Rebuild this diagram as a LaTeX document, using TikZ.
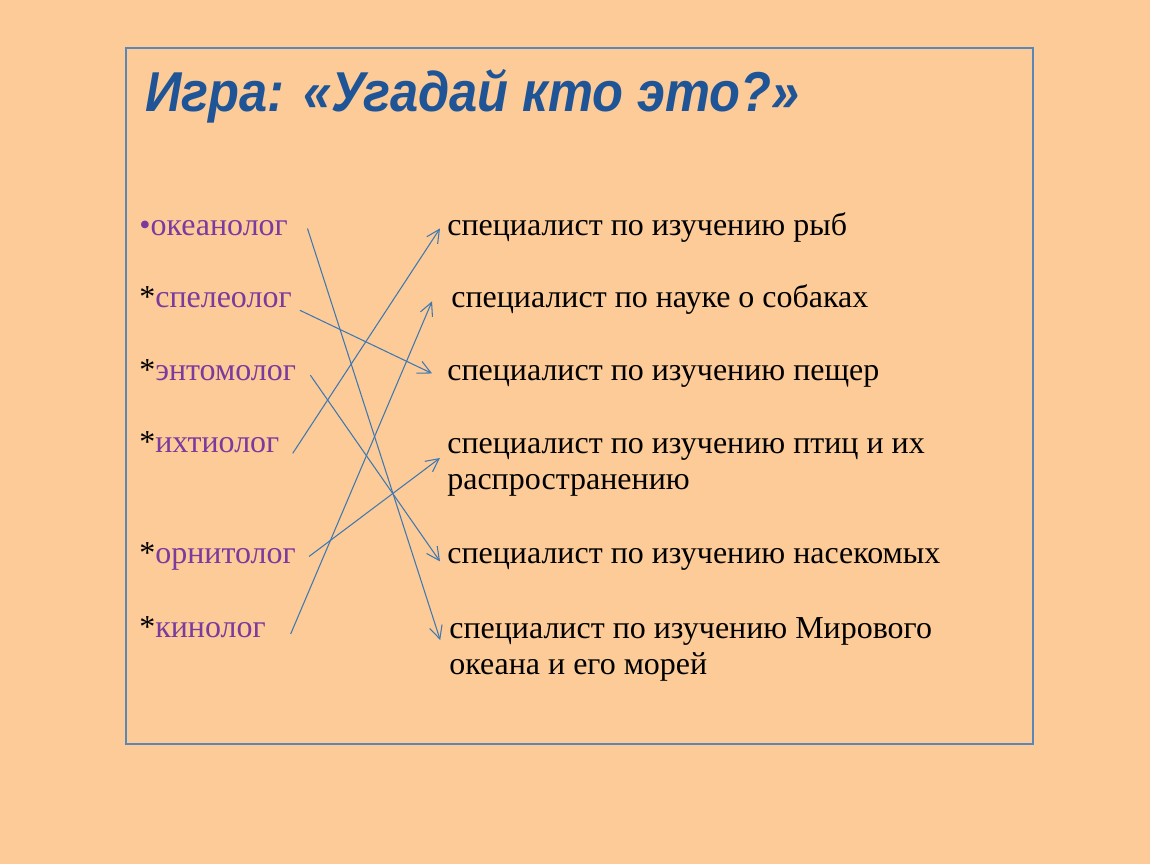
\documentclass[tikz,border=0pt]{standalone}
\usepackage{fontspec}
\setmainfont{Liberation Serif}
\newfontfamily\titlefont[FakeStretch=0.9]{Liberation Sans}
\usetikzlibrary{arrows.meta}
\definecolor{peach}{HTML}{FCCB98}
\definecolor{frameblue}{HTML}{5B86B8}
\definecolor{titleblue}{HTML}{1F5596}
\definecolor{wordpurple}{HTML}{7A3A9E}
\definecolor{arrowblue}{HTML}{3F78B0}
\begin{document}
\begin{tikzpicture}[x=0.02cm, y=-0.02cm,
    word/.style={anchor=base west, inner sep=0pt, font=\fontsize{18.2}{21}\selectfont},
    meaning/.style={anchor=base west, inner sep=0pt, align=left, font=\fontsize{18.2}{21}\selectfont},
    match/.style={arrowblue, line width=0.6pt, -{Straight Barb[length=2.6mm, width=2.6mm]}}]
        % Background and frame
        \fill[peach] (0,0) rectangle (1150,864);
        \draw[frameblue, line width=0.8pt] (126,48) rectangle (1033,744);
        \node (title) [anchor=base west, inner sep=0pt, titleblue,
            font=\titlefont\bfseries\itshape\fontsize{32}{36}\selectfont] at (145,112)
            {Игра: «Угадай кто это?»};

        % Nodes
        \node (okean) [word] at (139,236) {\textcolor{wordpurple}{•океанолог}};
        \node (speleo) [word] at (139,308) {*\textcolor{wordpurple}{спелеолог}};
        \node (ento) [word] at (139,381) {*\textcolor{wordpurple}{энтомолог}};
        \node (ihtio) [word] at (139,453) {*\textcolor{wordpurple}{ихтиолог}};
        \node (ornito) [word] at (139,564) {*\textcolor{wordpurple}{орнитолог}};
        \node (kino) [word] at (139,638) {*\textcolor{wordpurple}{кинолог}};

        \node (fish) [meaning] at (447,236) {специалист по изучению рыб};
        \node (dogs) [meaning] at (451,308) {специалист по науке о собаках};
        \node (caves) [meaning] at (447,381) {специалист по изучению пещер};
        \node (birds) [meaning] at (447,490) {специалист по изучению птиц и их\\распространению};
        \node (insects) [meaning] at (447,564) {специалист по изучению насекомых};
        \node (ocean) [meaning] at (449,675) {специалист по изучению Мирового\\океана и его морей};

        % Edges
        \draw[match] ([xshift=11pt,yshift=2pt]okean.mid east) -- ([xshift=-5pt,yshift=19.9pt]ocean.base west);
        \draw[match] ([xshift=4.5pt,yshift=-3.6pt]speleo.mid east) -- ([xshift=-8.5pt,yshift=2pt]caves.mid west);
        \draw[match] ([xshift=8pt,yshift=1pt]ento.mid east) -- ([xshift=-4pt,yshift=-0.8pt]insects.mid west);
        \draw[match] ([xshift=7.4pt,yshift=-2.5pt]ihtio.mid east) -- ([xshift=-4pt,yshift=2pt]fish.mid west);
        \draw[match] ([xshift=7.4pt,yshift=2pt]ornito.mid east) -- ([xshift=-4pt,yshift=18.2pt]birds.base west);
        \draw[match] ([xshift=14pt]kino.mid east) -- ([xshift=-10.8pt,yshift=1.5pt]dogs.mid west);
    \end{tikzpicture}
\end{document}
